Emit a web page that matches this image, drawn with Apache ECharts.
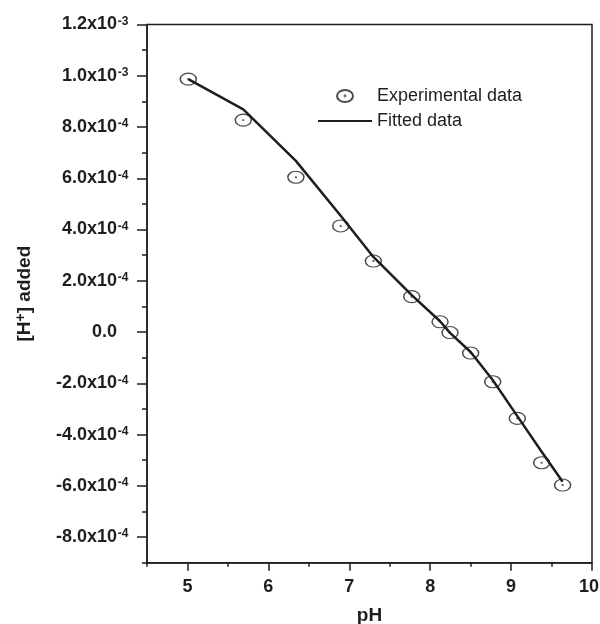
<!DOCTYPE html>
<html><head><meta charset="utf-8">
<script src="https://cdn.jsdelivr.net/npm/echarts@6/dist/echarts.min.js"></script>
<style>html,body{margin:0;padding:0;background:#fff}#c{width:600px;height:624px}</style>
</head><body><div id="c"></div>
<script>
const pH = [5.01, 5.69, 6.34, 6.894, 7.298, 7.772, 8.122, 8.245, 8.50, 8.773, 9.077, 9.378, 9.637];
const experimental = [9.87e-4, 8.27e-4, 6.04e-4, 4.14e-4, 2.77e-4, 1.38e-4, 0.40e-4, -0.02e-4, -0.82e-4, -1.94e-4, -3.37e-4, -5.10e-4, -5.97e-4];
const fitted = [9.87e-4, 8.69e-4, 6.68e-4, 4.54e-4, 2.93e-4, 1.44e-4, 0.42e-4, -0.03e-4, -0.78e-4, -1.87e-4, -3.28e-4, -4.67e-4, -5.84e-4];
const xTicks = [5, 6, 7, 8, 9, 10];
const xMinorTicks = [4.5, 5.5, 6.5, 7.5, 8.5, 9.5];
const yTicks = [-8e-4, -6e-4, -4e-4, -2e-4, 0, 2e-4, 4e-4, 6e-4, 8e-4, 1.0e-3, 1.2e-3];
const yTickLabels = ['-8.0x10^-4', '-6.0x10^-4', '-4.0x10^-4', '-2.0x10^-4', '0.0', '2.0x10^-4', '4.0x10^-4', '6.0x10^-4', '8.0x10^-4', '1.0x10^-3', '1.2x10^-3'];
const yMinorTicks = [-9e-4, -7e-4, -5e-4, -3e-4, -1e-4, 1e-4, 3e-4, 5e-4, 7e-4, 9e-4, 1.1e-3];

const INK = '#1e1e1e';
const FONT = '"Liberation Sans", Arial, sans-serif';
const ellipse = 'path://M0,6A8,6,0,1,0,16,6A8,6,0,1,0,0,6ZM7.6,6A0.4,0.4,0,1,0,8.4,6A0.4,0.4,0,1,0,7.6,6Z';
const lineIcon = 'path://M0,0H54V2H0Z';

function yLabel(v) {
  let best = 0, d = Infinity;
  yTicks.forEach((t, i) => { const dd = Math.abs(t - v); if (dd < d) { d = dd; best = i; } });
  const parts = yTickLabels[best].split('^');
  if (parts.length === 1) return '{b|' + parts[0] + '}{s| }';
  return '{b|' + parts[0] + '}{s|' + parts[1] + '}';
}
function xLabel(v) {
  return v >= xTicks[xTicks.length - 1] ? '{e|' + v + '}' : '{n|' + v + '}';
}

const xRich = {
  n: { fontFamily: FONT, fontSize: 18, fontWeight: 'bold', color: INK },
  e: { fontFamily: FONT, fontSize: 18, fontWeight: 'bold', color: INK, padding: [0, 6, 0, 0] }
};

const chart = echarts.init(document.getElementById('c'));
chart.setOption({
  backgroundColor: '#fff',
  animation: false,
  grid: { left: 147, right: 8, top: 24.5, bottom: 61.3, outerBoundsMode: 'none', containLabel: false,
    show: true, borderColor: INK, borderWidth: 1.5, backgroundColor: 'transparent' },
  legend: {
    orient: 'vertical', left: 313, top: 82, itemGap: 7, itemWidth: 54, itemHeight: 12,
    textStyle: { fontFamily: FONT, fontSize: 18, color: INK },
    data: [{ name: 'Experimental data' }, { name: 'Fitted data', icon: lineIcon, itemStyle: { color: INK } }]
  },
  xAxis: [{
    type: 'value', min: 4.5, max: 10, position: 'bottom',
    name: 'pH', nameLocation: 'middle', nameGap: 44,
    nameTextStyle: { fontFamily: FONT, fontSize: 19, fontWeight: 'bold', color: INK },
    axisLine: { show: true, onZero: false, lineStyle: { color: INK, width: 1.5 } },
    axisTick: { show: true, inside: false, length: 8, customValues: xTicks, lineStyle: { color: INK, width: 1.5 } },
    axisLabel: { show: true, margin: 15, customValues: xTicks, formatter: xLabel, rich: xRich },
    splitLine: { show: false }
  }, {
    type: 'value', min: 4.5, max: 10, position: 'bottom', gridIndex: 0,
    axisLine: { show: false, onZero: false },
    axisTick: { show: true, inside: false, length: 4, customValues: xMinorTicks, lineStyle: { color: INK, width: 1.5 } },
    axisLabel: { show: false },
    splitLine: { show: false }
  }],
  yAxis: [{
    type: 'value', min: -9e-4, max: 1.2e-3, position: 'left',
    name: '[H{sp|+}] added', nameLocation: 'middle', nameGap: 111, nameRotate: 90,
    nameTextStyle: { fontFamily: FONT, fontSize: 19, fontWeight: 'bold', color: INK,
      rich: { sp: { fontFamily: FONT, fontSize: 14, fontWeight: 'bold', color: INK, verticalAlign: 'top', padding: [0, 0, 8, 0] } } },
    axisLine: { show: true, onZero: false, lineStyle: { color: INK, width: 1.5 } },
    axisTick: { show: true, inside: false, length: 10, customValues: yTicks, lineStyle: { color: INK, width: 1.5 } },
    axisLabel: {
      show: true, margin: 18, customValues: yTicks, formatter: yLabel,
      rich: {
        b: { fontFamily: FONT, fontSize: 18, fontWeight: 'bold', color: INK },
        s: { fontFamily: FONT, fontSize: 12, fontWeight: 'bold', color: INK, width: 12, align: 'left', verticalAlign: 'top', padding: [0, 0, 6, 0] }
      }
    },
    splitLine: { show: false }
  }, {
    type: 'value', min: -9e-4, max: 1.2e-3, position: 'left', offset: 0,
    axisLine: { show: false, onZero: false },
    axisTick: { show: true, inside: false, length: 5, customValues: yMinorTicks, lineStyle: { color: INK, width: 1.5 } },
    axisLabel: { show: false },
    splitLine: { show: false }
  }],
  series: [{
    name: 'Experimental data', type: 'scatter', xAxisIndex: 0, yAxisIndex: 0,
    symbol: ellipse, symbolSize: [16, 12],
    itemStyle: { color: 'none', borderColor: INK, borderWidth: 1.3 },
    data: pH.map((x, i) => [x, experimental[i]]), z: 3
  }, {
    name: 'Fitted data', type: 'line', xAxisIndex: 0, yAxisIndex: 0,
    symbol: 'none', showSymbol: false, smooth: false,
    lineStyle: { color: INK, width: 2.5 }, itemStyle: { color: INK },
    data: pH.map((x, i) => [x, fitted[i]]), z: 2
  }]
});
</script></body></html>
